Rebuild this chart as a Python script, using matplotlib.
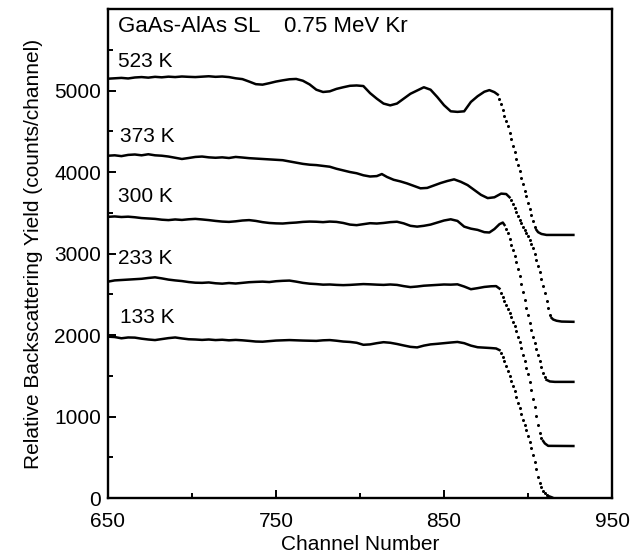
import matplotlib
matplotlib.use("Agg")
import matplotlib.pyplot as plt
from matplotlib.ticker import MultipleLocator

plt.rcParams['font.family'] = ['Liberation Sans', 'DejaVu Sans']

# ---------------- data ----------------
temps = ["523 K", "373 K", "300 K", "233 K", "133 K"]

# 523 K
k523_solid_ch = [650,654,658,662,666,670,674,678,682,686,690,694,698,702,706,710,714,718,722,726,
                 730,734,738,742,746,750,754,758,762,766,770,774,778,782,786,790,794,798,802,806,
                 810,814,818,822,826,830,834,838,842,846,850,854,858,862,866,870,874,877,880,882]
k523_solid_y = [5145,5150,5155,5148,5160,5165,5158,5168,5162,5170,5165,5172,5168,5165,5170,5175,5168,5172,5165,5150,
                5140,5110,5078,5072,5090,5110,5125,5138,5142,5120,5075,5010,4982,4990,5020,5040,5058,5062,5055,4968,
                4900,4840,4818,4840,4900,4960,5000,5040,5010,4920,4820,4745,4738,4745,4860,4930,4985,5005,4980,4950]
k523_dot_ch = list(range(883, 905))
k523_dot_y = [4900,4830,4760,4690,4620,4560,4480,4400,4320,4240,4160,4090,4010,3930,3850,3770,3700,3620,3550,3470,3400,3330]
k523_tail_ch = [905,906,908,911,927]
k523_tail_y = [3290,3262,3240,3228,3228]

# 373 K
k373_solid_ch = [650,654,658,662,666,670,674,678,682,686,690,694,698,702,706,710,714,718,722,726,
                 730,734,738,742,746,750,754,758,762,766,770,774,778,782,786,790,794,798,802,806,
                 810,813,816,820,824,828,832,836,840,844,848,852,856,860,864,868,872,876,880,884,887,889]
k373_solid_y = [4200,4205,4195,4210,4215,4205,4218,4205,4200,4190,4175,4160,4172,4185,4190,4180,4175,4180,4172,4185,
                4178,4170,4165,4160,4155,4150,4145,4130,4115,4100,4090,4085,4075,4065,4040,4020,4000,3985,3960,3945,
                3950,3975,3940,3905,3885,3860,3830,3800,3805,3835,3865,3890,3910,3880,3840,3780,3720,3680,3690,3735,3730,3690]
k373_dot_ch = list(range(890, 914))
k373_dot_y = [3660,3610,3560,3510,3460,3410,3370,3330,3290,3250,3210,3170,3120,3070,3000,2920,2850,2770,2690,2600,2510,2420,2330,2250]
k373_tail_ch = [914,915,917,920,927]
k373_tail_y = [2210,2190,2175,2165,2162]

# 300 K
k300_solid_ch = [650,654,658,662,666,670,674,678,682,686,690,694,698,702,706,710,714,718,722,726,
                 730,734,738,742,746,750,754,758,762,766,770,774,778,782,786,790,794,798,802,806,
                 810,814,818,822,826,830,834,838,842,846,850,854,858,862,866,870,874,877,880,883,885,886]
k300_solid_y = [3450,3455,3448,3452,3445,3435,3430,3425,3415,3410,3418,3412,3420,3425,3418,3410,3400,3392,3388,3395,
                3405,3410,3400,3385,3375,3370,3368,3375,3380,3388,3392,3390,3385,3392,3388,3375,3355,3348,3360,3372,
                3368,3375,3385,3390,3370,3340,3330,3340,3355,3380,3405,3420,3400,3330,3305,3290,3262,3258,3300,3360,3380,3350]
k300_dot_ch = list(range(887, 911))
k300_dot_y = [3300,3250,3180,3110,3040,2970,2900,2810,2720,2630,2530,2430,2330,2240,2150,2060,1980,1900,1830,1760,1680,1610,1540,1480]
k300_tail_ch = [911,913,916,927]
k300_tail_y = [1450,1430,1425,1425]

# 233 K
k233_solid_ch = [650,654,658,662,666,670,674,678,682,686,690,694,698,702,706,710,714,718,722,726,
                 730,734,738,742,746,750,754,758,762,766,770,774,778,782,786,790,794,798,802,806,
                 810,814,818,822,826,830,834,838,842,846,850,854,858,862,866,870,874,878,881,883]
k233_solid_y = [2655,2670,2675,2680,2685,2690,2700,2708,2695,2680,2670,2662,2650,2642,2640,2645,2635,2630,2638,2632,
                2640,2648,2652,2655,2650,2660,2665,2668,2655,2640,2630,2625,2618,2620,2615,2612,2615,2620,2625,2622,
                2618,2615,2620,2615,2600,2588,2595,2605,2610,2615,2620,2618,2622,2595,2562,2575,2590,2598,2600,2570]
k233_dot_ch = list(range(884, 909))
k233_dot_y = [2520,2470,2420,2370,2320,2270,2220,2160,2110,2050,1980,1910,1840,1760,1680,1600,1520,1420,1320,1220,1120,1010,900,800,740]
k233_tail_ch = [909,910,912,927]
k233_tail_y = [700,670,640,638]

# 133 K
k133_solid_ch = [650,654,658,662,666,670,674,678,682,686,690,694,698,702,706,710,714,718,722,726,
                 730,734,738,742,746,750,754,758,762,766,770,774,778,782,786,790,794,798,802,806,
                 810,814,818,822,826,830,834,838,842,846,850,854,858,862,866,870,874,878,881,883]
k133_solid_y = [1980,1975,1960,1970,1968,1955,1945,1938,1950,1962,1970,1958,1948,1945,1940,1945,1938,1942,1935,1940,
                1935,1928,1920,1918,1925,1932,1935,1938,1935,1932,1930,1928,1935,1938,1930,1920,1915,1905,1880,1885,
                1900,1912,1905,1890,1872,1855,1848,1870,1885,1892,1900,1908,1915,1900,1870,1850,1845,1840,1835,1815]
k133_dot_ch = list(range(884, 912))
k133_dot_y = [1780,1730,1680,1620,1560,1500,1440,1380,1310,1240,1170,1100,1030,960,890,830,760,690,610,530,440,350,260,190,130,90,60,40]
k133_tail_ch = [912,914,915]
k133_tail_y = [25,10,0]

label_x = [656, 657, 656, 656, 657]
label_y = [5360, 4440, 3700, 2945, 2210]

title_text = "GaAs-AlAs SL    0.75 MeV Kr"
x_ticks = [650, 750, 850, 950]
y_ticks = [0, 1000, 2000, 3000, 4000, 5000]

# ---------------- plot ----------------
fig = plt.figure(figsize=(6.37, 5.57), dpi=100)
ax = fig.add_axes([0.1695, 0.1059, 0.7913, 0.8779])

curves = [
    (k523_solid_ch, k523_solid_y, k523_dot_ch, k523_dot_y, k523_tail_ch, k523_tail_y),
    (k373_solid_ch, k373_solid_y, k373_dot_ch, k373_dot_y, k373_tail_ch, k373_tail_y),
    (k300_solid_ch, k300_solid_y, k300_dot_ch, k300_dot_y, k300_tail_ch, k300_tail_y),
    (k233_solid_ch, k233_solid_y, k233_dot_ch, k233_dot_y, k233_tail_ch, k233_tail_y),
    (k133_solid_ch, k133_solid_y, k133_dot_ch, k133_dot_y, k133_tail_ch, k133_tail_y),
]
for sc, sy, dc, dy, tc, ty in curves:
    ax.plot(sc, sy, color='black', lw=1.8, solid_joinstyle='round')
    ax.plot(dc, dy, linestyle='none', marker='o', ms=2.2, color='black', mew=0)
    ax.plot(tc, ty, color='black', lw=1.8)

for t, lx, ly in zip(temps, label_x, label_y):
    ax.text(lx, ly, t, fontsize=15, va='center', ha='left')
ax.text(656, 5790, title_text, fontsize=16, va='center', ha='left')

ax.set_xlim(650, 950)
ax.set_ylim(0, 6000)
ax.set_xticks(x_ticks)
ax.set_yticks(y_ticks)
ax.xaxis.set_minor_locator(MultipleLocator(50))
ax.yaxis.set_minor_locator(MultipleLocator(500))
ax.tick_params(which='both', direction='in', top=False, right=False, width=1.4, labelsize=15)
ax.tick_params(axis='x', which='major', length=6, pad=10)
ax.tick_params(axis='y', which='major', length=6, pad=5)
ax.tick_params(which='minor', length=3.5)
for s in ax.spines.values():
    s.set_linewidth(1.7)

ax.set_xlabel("Channel Number", fontsize=15, labelpad=3)
ax.set_ylabel("Relative Backscattering Yield (counts/channel)", fontsize=15, labelpad=8)

fig.savefig("out.png", dpi=100)
